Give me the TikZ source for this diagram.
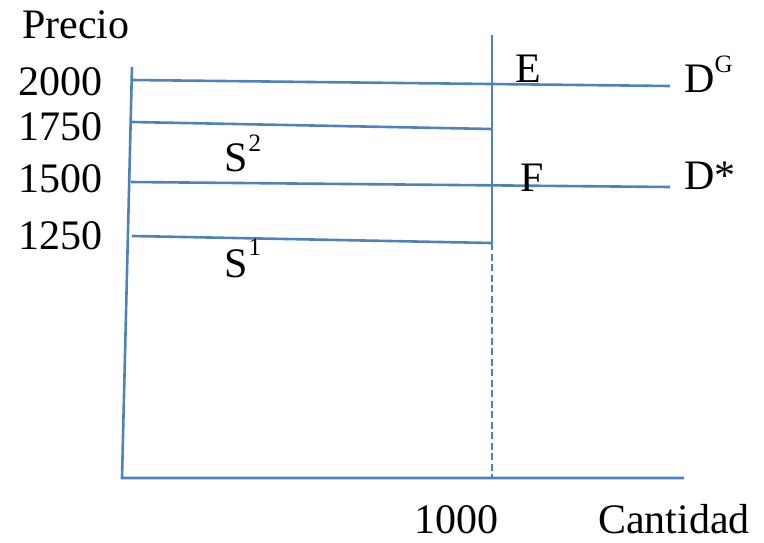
\documentclass[tikz,border=0pt]{standalone}
\usepackage{fontspec}
\setmainfont{Liberation Serif}
\definecolor{axisblue}{HTML}{4F81BD}
\newcommand{\supsize}{\fontsize{25}{25}\selectfont}
\begin{document}
\begin{tikzpicture}[x=1pt,y=-1pt,
  ln/.style={draw=axisblue,line width=2.6pt},
  dsh/.style={draw=axisblue,line width=2.6pt,dash pattern=on 7pt off 3.5pt},
  lbl/.style={anchor=base west,inner sep=0pt,font=\fontsize{42}{42}\selectfont}]
\useasboundingbox (0,0) rectangle (764,542);
% axes
\coordinate (ytop) at (132,67);
\coordinate (orig) at (122,478);
\coordinate (xend) at (684,478);
\draw[ln] (ytop) -- (orig) -- (xend);
% vertical supply line at 1000
\coordinate (vtop) at (492,35);
\coordinate (vmid) at (492,243);
\coordinate (vbot) at (492,477);
\draw[ln] (vtop) -- (vmid);
\draw[dsh] (vmid) -- (vbot);
% horizontal lines
\coordinate (a1) at (132,80); \coordinate (a2) at (670,86);
\draw[ln] (a1) -- (a2);
\coordinate (b1) at (132,122); \coordinate (b2) at (492,129);
\draw[ln] (b1) -- (b2);
\coordinate (c1) at (131,182); \coordinate (c2) at (670,187);
\draw[ln] (c1) -- (c2);
\coordinate (d1) at (132,236); \coordinate (d2) at (492,243);
\draw[ln] (d1) -- (d2);
% labels
\node[lbl] (precio) at (22,38) {Precio};
\node[lbl] (p2000) at (18,95) {2000};
\node[lbl] (p1750) at (18,140) {1750};
\node[lbl] (p1500) at (18,192) {1500};
\node[lbl] (p1250) at (18,249) {1250};
\node[lbl] (q1000) at (414,533) {1000};
\node[lbl] (cant) at (598,533) {Cantidad};
\node[lbl] (E) at (515,82) {E};
\node[lbl] (F) at (520,191) {F};
\node[lbl] (DG) at (684,92) {D\raisebox{20pt}{\supsize G}};
\node[lbl] (Dstar) at (684,189) {D*};
\node[lbl] (S2) at (224,171) {S\kern1pt\raisebox{20pt}{\supsize 2}};
\node[lbl] (S1) at (224,277) {S\kern1pt\raisebox{22pt}{\supsize 1}};
\end{tikzpicture}
\end{document}
